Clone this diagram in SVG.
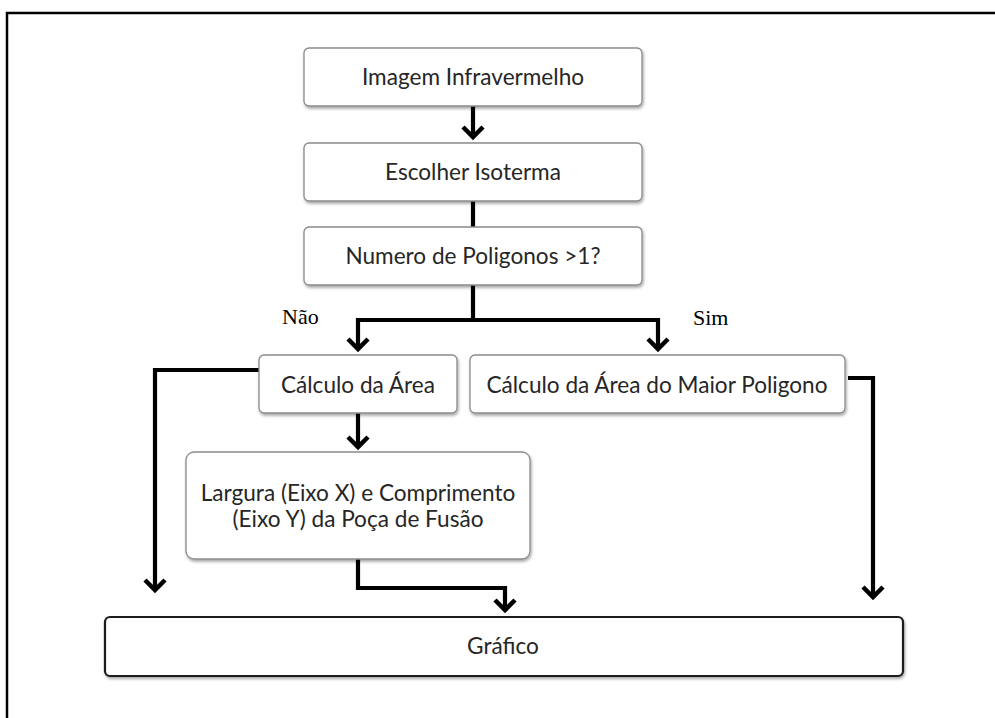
<svg xmlns="http://www.w3.org/2000/svg" width="995" height="718" viewBox="0 0 995 718">
<style>
.box{fill:#fff;stroke:#8a8a8a;stroke-width:1.3;filter:url(#sh)}
.gbox{fill:#fff;stroke:#1a1a1a;stroke-width:2.2;filter:url(#sh)}
.t{font-family:Lato,"Liberation Sans",sans-serif;font-size:22.6px;fill:#262626;text-anchor:middle}
.lbl{font-family:"Liberation Serif",serif;font-size:22px;fill:#000}
.c{fill:none;stroke:#000;stroke-width:4.2;stroke-linejoin:miter}
.ca{fill:none;stroke:#000;stroke-width:4.2;marker-end:url(#chev)}
</style>
<defs>
<filter id="sh" x="-5%" y="-10%" width="115%" height="130%">
<feDropShadow dx="1" dy="2" stdDeviation="1.5" flood-color="#000" flood-opacity="0.35"/>
</filter>
<marker id="chev" markerUnits="userSpaceOnUse" markerWidth="28" markerHeight="28" viewBox="-14 -14 28 28" refX="0" refY="0" orient="auto">
<path d="M-10,-10 L0,0 L-10,10" fill="none" stroke="#000" stroke-width="4.5"/>
</marker>
</defs>
<rect x="0" y="0" width="995" height="718" fill="#fff"/>
<rect x="7" y="13" width="1010" height="730" fill="none" stroke="#000" stroke-width="2.5"/>

<g id="connectors">
<path class="ca" d="M473,106 V137"/>
<path class="c" d="M473,201 V227"/>
<path class="ca" d="M473,285 V320 H358 V349"/>
<path class="ca" d="M473,320 H658 V349"/>
<path class="ca" d="M259,370 H155 V590"/>
<path class="ca" d="M358,413 V447"/>
<path class="ca" d="M358,559 V588 H505 V610"/>
<path class="ca" d="M848,378 H873 V597"/>
</g>

<g id="n1">
<rect class="box" x="304" y="48" width="338" height="58" rx="5"/>
<text class="t" x="473" y="85">Imagem Infravermelho</text>
</g>
<g id="n2">
<rect class="box" x="304" y="143" width="338" height="58" rx="5"/>
<text class="t" x="473" y="180">Escolher Isoterma</text>
</g>
<g id="n3">
<rect class="box" x="304" y="227" width="338" height="58" rx="5"/>
<text class="t" x="473" y="264">Numero de Poligonos &gt;1?</text>
</g>
<g id="n4">
<rect class="box" x="259" y="355" width="198" height="58" rx="5"/>
<text class="t" x="358" y="393">Cálculo da Área</text>
</g>
<g id="n5">
<rect class="box" x="470" y="355" width="375" height="58" rx="5"/>
<text class="t" x="657" y="393">Cálculo da Área do Maior Poligono</text>
</g>
<g id="n6">
<rect class="box" x="186" y="452" width="344" height="107" rx="8"/>
<text class="t" x="358" y="501">Largura (Eixo X) e Comprimento</text>
<text class="t" x="358" y="527">(Eixo Y) da Poça de Fusão</text>
</g>
<g id="n7">
<rect class="gbox" x="105" y="617" width="798" height="59" rx="5"/>
<text class="t" x="503" y="654">Gráfico</text>
</g>
<g id="labels">
<text class="lbl" x="282" y="324">Não</text>
<text class="lbl" x="693" y="325">Sim</text>
</g>
</svg>
